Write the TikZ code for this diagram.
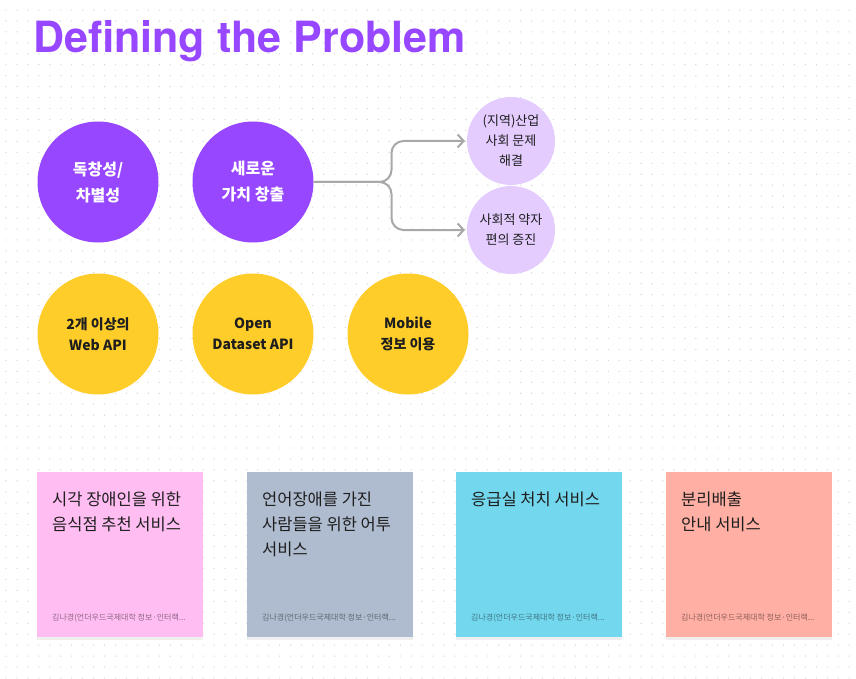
\documentclass[tikz,border=0pt]{standalone}
\usepackage{fontspec}
\setmainfont{Noto Sans CJK KR}
\newfontfamily\titlefont{TeX Gyre Heros}
\usepackage{tikz}
\usetikzlibrary{arrows.meta, positioning, shadows}

\definecolor{figpurple}{HTML}{9747FF}
\definecolor{lavender}{HTML}{E4CCFF}
\definecolor{sunny}{HTML}{FFCD29}
\definecolor{inkdark}{HTML}{1E1E1E}
\definecolor{dotgray}{HTML}{D6D6D6}
\definecolor{notepink}{HTML}{FFBDF2}
\definecolor{noteslate}{HTML}{AFBCCF}
\definecolor{notecyan}{HTML}{73D7EE}
\definecolor{notesalmon}{HTML}{FFAFA3}
\definecolor{linegray}{HTML}{A8A8A8}

\begin{document}
\begin{tikzpicture}[x=1pt, y=-1pt,
    bigdot/.style={
        circle, minimum size=121pt, inner sep=0pt, outer sep=0pt,
        align=center, font=\bfseries\fontsize{16}{26}\selectfont
    },
    idea/.style={bigdot, fill=figpurple, text=white},
    tech/.style={bigdot, fill=sunny, text=inkdark, font=\bfseries\fontsize{14}{21}\selectfont},
    goal/.style={
        circle, minimum size=88pt, inner sep=0pt, outer sep=0pt,
        fill=lavender, text=inkdark, align=center, font=\fontsize{13}{20}\selectfont
    },
    sticky/.style={
        rectangle, minimum width=166pt, minimum height=165pt,
        inner sep=0pt, outer sep=0pt,
        drop shadow={opacity=0.12, shadow xshift=0pt, shadow yshift=-3pt}
    },
    notetext/.style={anchor=north west, align=left, inner sep=0pt, text=inkdark, font=\fontsize{16.5}{25}\selectfont},
    author/.style={anchor=west, inner sep=0pt, text=black, text opacity=0.45, font=\fontsize{8}{9}\selectfont},
    arr/.style={-{Straight Barb[length=6pt, width=13pt]}, draw=linegray, line width=2pt, rounded corners=12pt},
    node distance=34pt
]

% canvas and dot grid
\fill[white] (0,0) rectangle (856,679);
\useasboundingbox (0,0) rectangle (856,679);
\foreach \i in {0,...,77}{
    \foreach \j in {0,...,61}{
        \fill[dotgray] (6+10.95*\i, 10+10.95*\j) circle (0.7pt);
    }
}

\node[anchor=base west, inner sep=0pt, text=figpurple,
      font=\titlefont\bfseries\fontsize{43}{50}\selectfont] (title) at (33,53) {Defining the Problem};

\node[idea] (unique) at (98,182) {독창성/\\차별성};
\node[idea, right=of unique] (newval) {새로운\\가치 창출};

\node[goal] (social) at (511,141) {(지역)산업\\사회 문제\\해결};
\node[goal, below=1pt of social] (weak) {사회적 약자\\편의 증진};

\node[tech] (webapi) at (98,334) {2개 이상의\\Web API};
\node[tech, right=of webapi] (openapi) {Open\\Dataset API};
\node[tech, right=of openapi] (mobile) {Mobile\\정보 이용};

\draw[arr] (newval.east) -- ++(78,0) |- ([xshift=-2pt]social.west);
\draw[arr] (newval.east) -- ++(78,0) |- ([xshift=-2pt]weak.west);

% sticky notes
\node[sticky, fill=notepink] (visual) at (120,554.5) {};
\node[sticky, fill=noteslate, right=44pt of visual] (speech) {};
\node[sticky, fill=notecyan, right=43pt of speech] (emergency) {};
\node[sticky, fill=notesalmon, right=44pt of emergency] (recycle) {};

\node[notetext] (visualtxt) at ([xshift=15pt, yshift=-20pt]visual.north west) {시각 장애인을 위한\\음식점 추천 서비스};
\node[notetext] (speechtxt) at ([xshift=15pt, yshift=-20pt]speech.north west) {언어장애를 가진\\사람들을 위한 어투\\서비스};
\node[notetext] (emergencytxt) at ([xshift=15pt, yshift=-20pt]emergency.north west) {응급실 처치 서비스};
\node[notetext] (recycletxt) at ([xshift=15pt, yshift=-20pt]recycle.north west) {분리배출\\안내 서비스};

\foreach \n in {visual, speech, emergency, recycle}{
    \node[author] (\n-by) at ([xshift=15pt, yshift=19pt]\n.south west) {김나경(언더우드국제대학 정보·인터랙...};
}

\end{tikzpicture}
\end{document}
